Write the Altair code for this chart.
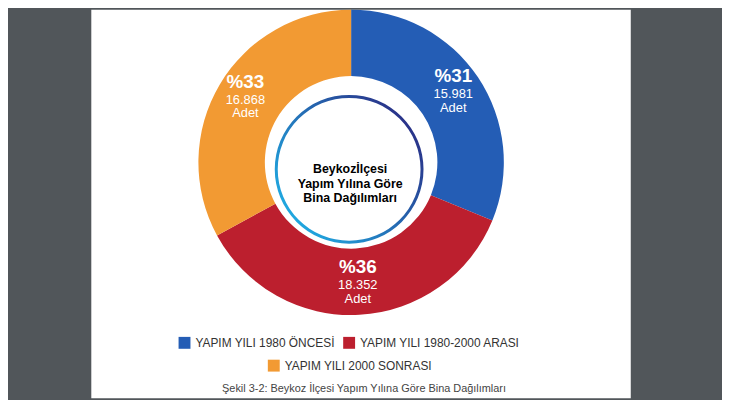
import math
import altair as alt
import pandas as pd

# ---- data ----
categories = ["YAPIM YILI 1980 ÖNCESİ", "YAPIM YILI 1980-2000 ARASI", "YAPIM YILI 2000 SONRASI"]
counts = [15981, 18352, 16868]
count_labels = ["15.981", "18.352", "16.868"]
pct_labels = ["%31", "%36", "%33"]
unit_labels = ["Adet", "Adet", "Adet"]
slice_order = [0, 1, 2]
colors = ["#245db5", "#bc1f2e", "#f29a33"]
center_title = "Beykozİlçesi\nYapım Yılına Göre\nBina Dağılımları"
caption = "Şekil 3-2: Beykoz İlçesi Yapım Yılına Göre Bina Dağılımları"

FONT = "Liberation Sans"
CX, CY = 262, 154

df = pd.DataFrame({
    "cat": categories, "n": counts, "cnt": count_labels,
    "pct": pct_labels, "unit": unit_labels, "ord": slice_order,
})

base = alt.Chart(df).encode(
    theta=alt.Theta("n:Q", stack=True),
    order=alt.Order("ord:Q"),
)

arcs = base.mark_arc(innerRadius=87, outerRadius=154).encode(
    x=alt.value(CX), y=alt.value(CY),
    color=alt.Color(
        "cat:N",
        scale=alt.Scale(domain=categories, range=colors),
        legend=alt.Legend(
            title=None, orient="none", legendX=88, legendY=330,
            direction="horizontal", values=categories[:2],
            symbolType="square", symbolSize=144, symbolStrokeWidth=0,
            labelFont=FONT, labelFontSize=12, labelColor="#333333",
            labelLimit=400, columnPadding=8, labelOffset=5,
        ),
    ),
)

legend3 = alt.Chart(df).transform_filter(
    alt.datum.cat == categories[2]
).mark_square(size=144, clip=True, opacity=1).encode(
    x=alt.value(-80), y=alt.value(-80),
    fill=alt.Fill(
        "cat:N",
        scale=alt.Scale(domain=[categories[2]], range=[colors[2]]),
        legend=alt.Legend(
            title=None, orient="none", legendX=178, legendY=353,
            direction="horizontal",
            symbolType="square", symbolSize=144, symbolStrokeWidth=0,
            symbolOpacity=1,
            labelFont=FONT, labelFontSize=12, labelColor="#333333",
            labelLimit=400, labelOffset=5,
        ),
    ),
)

ring = alt.Chart(pd.DataFrame({"a": [0]})).mark_arc(
    theta=0, theta2=2 * math.pi, innerRadius=72, outerRadius=75,
    fill=alt.Gradient(
        gradient="linear", x1=0, y1=0.8, x2=0.9, y2=0.1,
        stops=[alt.GradientStop(color="#1fb0e6", offset=0),
               alt.GradientStop(color="#2a2c84", offset=1)],
    ),
).encode(x=alt.value(260), y=alt.value(161))

pct_text = base.mark_text(radius=124, dy=-18, fontSize=19, fontWeight="bold",
                          color="white", font=FONT).encode(
    x=alt.value(CX), y=alt.value(CY), text="pct:N")
cnt_text = base.mark_text(radius=124, dy=0, fontSize=13,
                          color="white", font=FONT).encode(
    x=alt.value(CX), y=alt.value(CY), text="cnt:N")
unit_text = base.mark_text(radius=124, dy=14, fontSize=13,
                           color="white", font=FONT).encode(
    x=alt.value(CX), y=alt.value(CY), text="unit:N")

title_text = alt.Chart(pd.DataFrame({"t": [center_title]})).mark_text(
    lineBreak="\n", fontSize=12.5, fontWeight="bold", lineHeight=14.5,
    color="black", font=FONT, baseline="middle",
).encode(x=alt.value(261), y=alt.value(161), text="t:N")

caption_text = alt.Chart(pd.DataFrame({"t": [caption]})).mark_text(
    fontSize=11, color="#444444", font=FONT, baseline="middle",
).encode(x=alt.value(275), y=alt.value(383), text="t:N")

chart = alt.layer(
    arcs, ring, pct_text, cnt_text, unit_text, title_text, caption_text, legend3
).properties(
    width=544, height=392,
    padding={"left": 84, "right": 92, "top": 0, "bottom": 0},
    autosize="none",
    background="#51565a",
).configure_view(fill="white", strokeWidth=0)

chart.save("out.html", embed_options={"renderer": "svg", "actions": False})
